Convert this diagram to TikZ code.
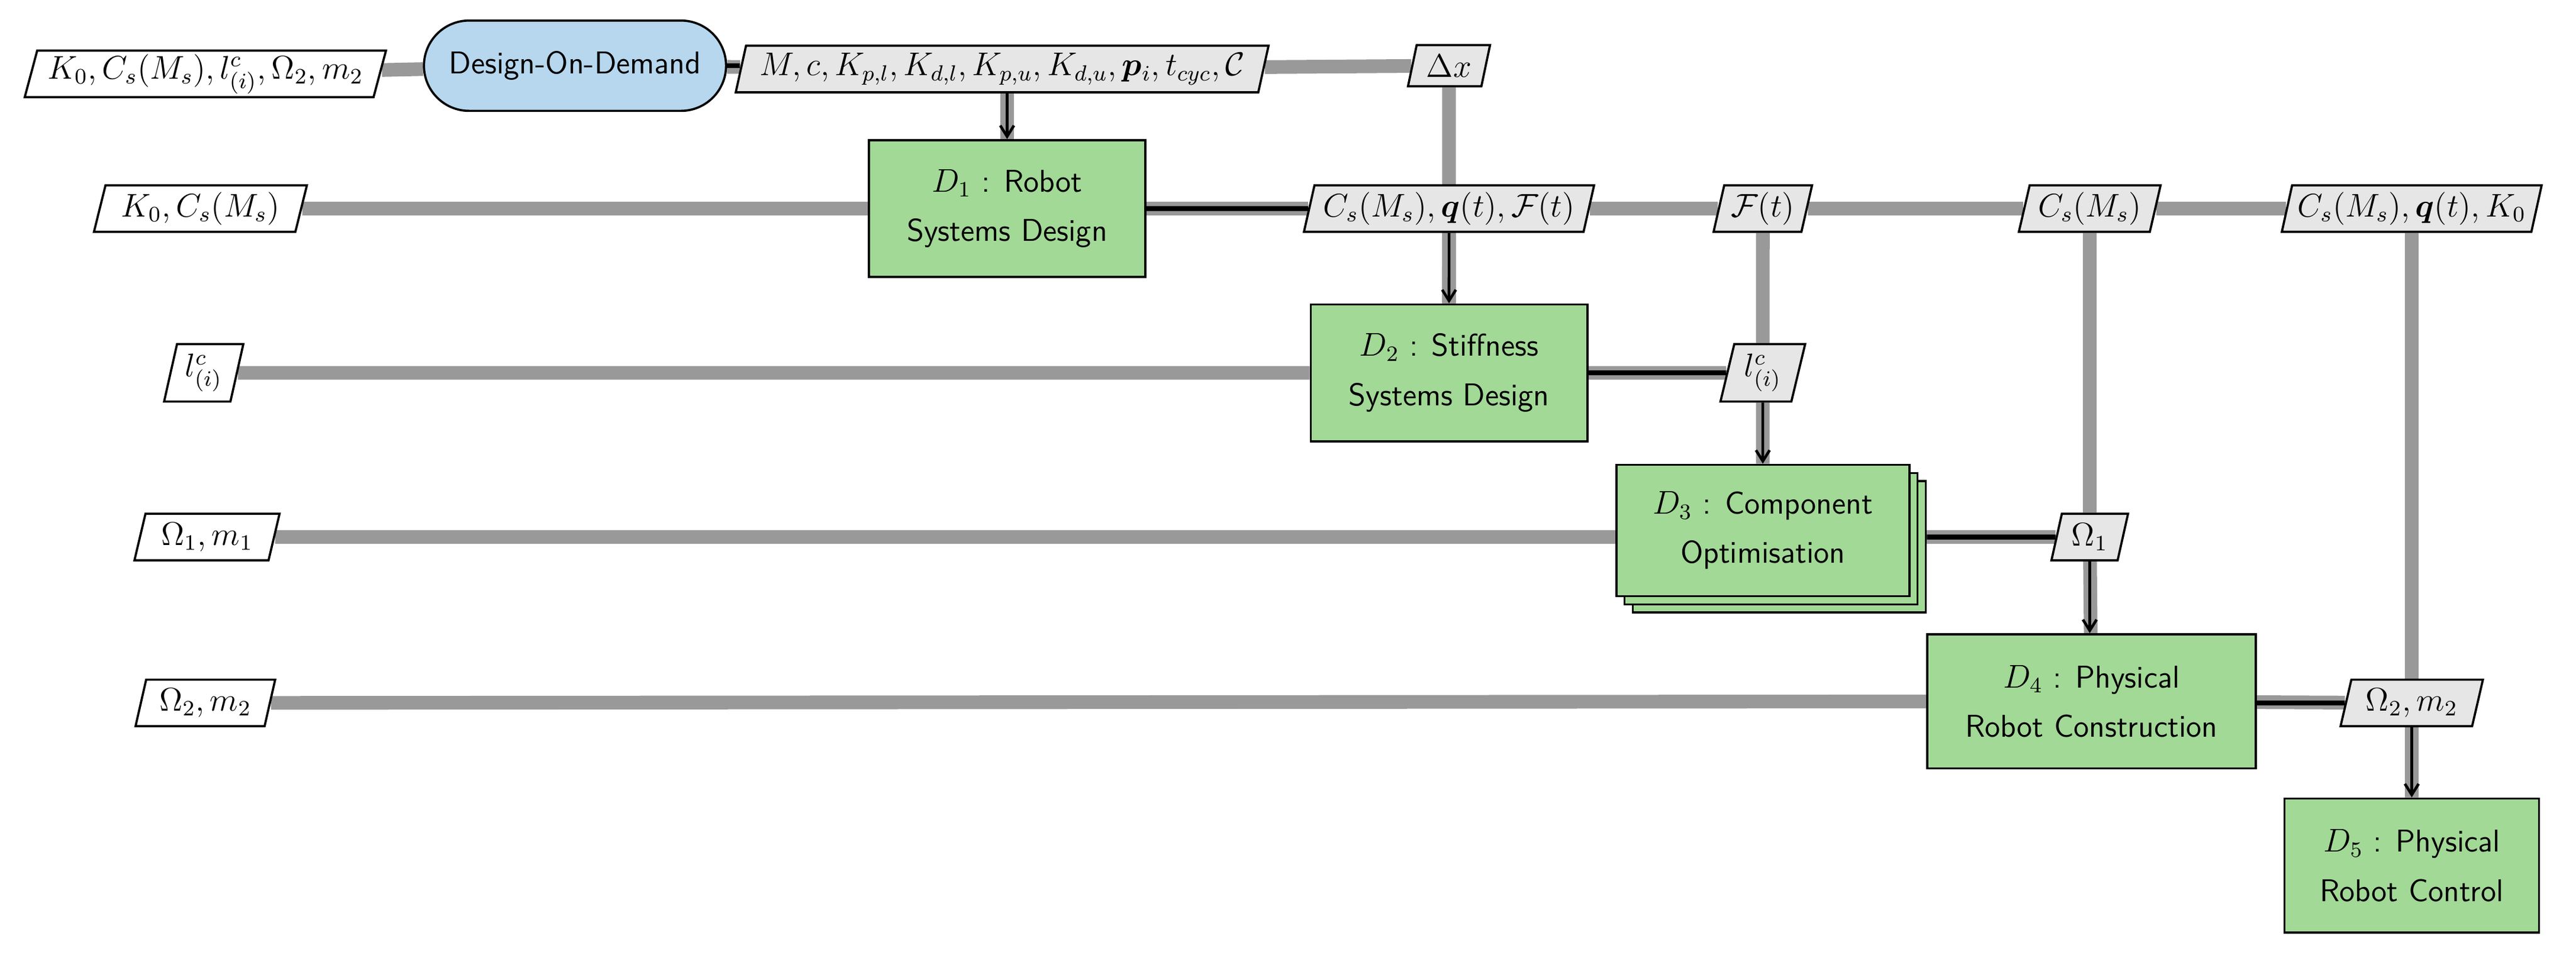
\documentclass[tikz,border=0pt]{standalone}
\usepackage{amsmath,amssymb,bm}
\usetikzlibrary{shapes.geometric,shapes.misc,arrows.meta,shadows}
\definecolor{dodblue}{RGB}{182,215,238}
\definecolor{fgreen}{RGB}{162,217,150}
\definecolor{dgrey}{RGB}{230,230,230}
\definecolor{lgrey}{RGB}{153,153,153}
\pgfdeclarelayer{bg}
\pgfsetlayers{bg,main}
\begin{document}
\begin{tikzpicture}[x=0.6pt,y=-0.6pt,
  every node/.style={font=\fontsize{11.5}{18}\selectfont\sffamily},
  para/.style={draw,line width=0.8pt,trapezium,trapezium left angle=75,trapezium right angle=105,trapezium stretches=true,minimum height=17pt,inner xsep=2pt,inner ysep=1pt},
  inp/.style={para,fill=white},
  dat/.style={para,fill=dgrey},
  fn/.style={draw,line width=0.8pt,fill=fgreen,align=center,minimum height=49pt},
  gl/.style={line width=5pt,lgrey},
  bl/.style={line width=1.8pt,black},
  ar/.style={line width=1pt,black,-{Straight Barb[length=4pt,width=5pt]}}
]
\useasboundingbox (0,0) rectangle (1568,583);
% row 0
\node[inp,minimum width=132pt] (i0) at (125,45) {$K_0,C_s(M_s),l^c_{(i)},\Omega_2,m_2$};
\node[draw,line width=0.8pt,fill=dodblue,rounded rectangle,minimum width=117pt,minimum height=33pt] (dod) at (350,40) {Design-On-Demand};
\node[dat,minimum width=195pt] (dm) at (610,42) {$M,c,K_{p,l},K_{d,l},K_{p,u},K_{d,u},\bm{p}_i,t_{cyc},\mathcal{C}$};
\node[dat,minimum width=30pt,minimum height=15pt] (dx) at (882,40) {$\Delta x$};
% row 1
\node[inp,minimum width=78pt] (i1) at (122,127) {$K_0,C_s(M_s)$};
\node[fn,minimum width=101pt,minimum height=50pt] (d1) at (613,127) {$D_1$ : Robot\\Systems Design};
\node[dat,minimum width=106pt] (cqf) at (882,127) {$C_s(M_s),\bm{q}(t),\mathcal{F}(t)$};
\node[dat,minimum width=36pt] (ft) at (1073,127) {$\mathcal{F}(t)$};
\node[dat,minimum width=52pt] (cs) at (1272,127) {$C_s(M_s)$};
\node[dat,minimum width=90pt] (cqk) at (1468,127) {$C_s(M_s),\bm{q}(t),K_0$};
% row 2
\node[inp,minimum width=29pt,minimum height=21pt] (i2) at (124,227) {$l^c_{(i)}$};
\node[fn,minimum width=101pt,minimum height=50pt] (d2) at (882,227) {$D_2$ : Stiffness\\Systems Design};
\node[dat,minimum width=31pt,minimum height=21pt] (l2) at (1073,227) {$l^c_{(i)}$};
% row 3
\node[inp,minimum width=53pt] (i3) at (126,327) {$\Omega_1,m_1$};
\node[fn,minimum width=107pt,minimum height=48pt,double copy shadow={shadow xshift=3pt,shadow yshift=-3pt,fill=fgreen,draw,line width=0.8pt}] (d3) at (1073,323) {$D_3$ : Component\\Optimisation};
\node[dat,minimum width=28pt] (o1) at (1272,327) {$\Omega_1$};
% row 4
\node[inp,minimum width=51pt] (i4) at (125,428) {$\Omega_2,m_2$};
\node[fn,minimum width=120pt,minimum height=49pt] (d4) at (1273,427) {$D_4$ : Physical\\Robot Construction};
\node[dat,minimum width=52pt] (o2) at (1468,428) {$\Omega_2,m_2$};
% row 5
\node[fn,minimum width=93pt,minimum height=49pt] (d5) at (1468,527) {$D_5$ : Physical\\Robot Control};
\begin{pgfonlayer}{bg}
\draw[gl] (i0) -- (dod) -- (dm) -- (dx);
\draw[gl] (dx) -- (d2);
\draw[gl] (i1) -- (d1) -- (cqf) -- (ft) -- (cs) -- (cqk);
\draw[gl] (dm.south -| d1) -- (d1);
\draw[gl] (cqf) -- (d2);
\draw[gl] (ft) -- (l2) -- (d3.north -| l2);
\draw[gl] (cs) -- (o1) -- (d4);
\draw[gl] (cqk) -- (o2) -- (d5);
\draw[gl] (i2) -- (d2) -- (l2);
\draw[gl] (i3) -- (d3.west |- i3) (d3.east |- o1) -- (o1);
\draw[gl] (i4) -- (d4) -- (o2);
\draw[bl] (dod.east) -- (dm.west |- dod.east);
\draw[bl] (d1.east |- cqf) -- (cqf.west);
\draw[bl] (d2.east |- l2) -- (l2.west);
\draw[bl] ([xshift=6pt]d3.east |- o1) -- (o1.west);
\draw[bl] (d4.east |- o2) -- (o2.west);
\draw[ar] (dm.south -| d1) -- (d1.north);
\draw[ar] (cqf.south) -- (d2.north);
\draw[ar] (l2.south) -- (d3.north -| l2);
\draw[ar] (o1.south) -- (d4.north -| o1);
\draw[ar] (o2.south) -- (d5.north);
\end{pgfonlayer}
\end{tikzpicture}
\end{document}
